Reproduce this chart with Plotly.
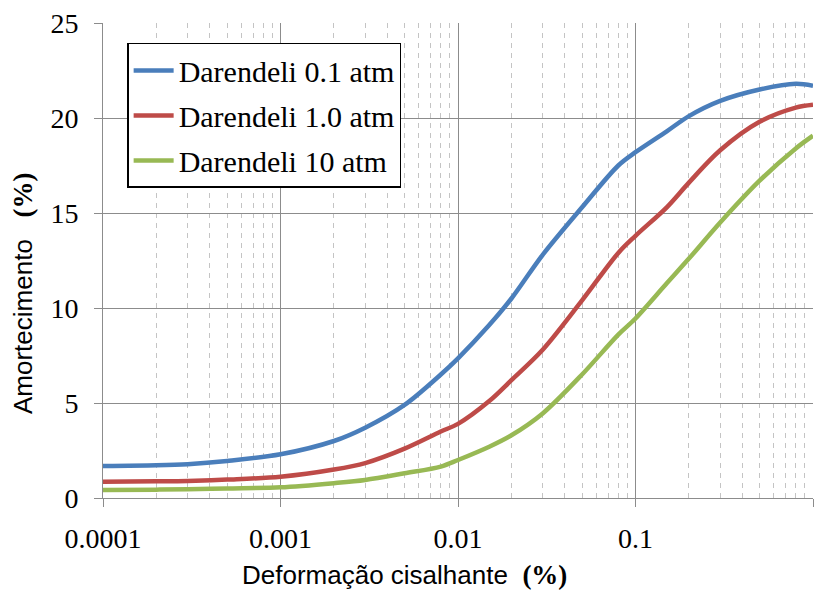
import plotly.graph_objects as go

strain = [0.0001, 0.0002, 0.0003, 0.0005, 0.001, 0.002, 0.003, 0.005, 0.008, 0.01,
          0.015, 0.02, 0.03, 0.05, 0.08, 0.1, 0.15, 0.2, 0.3, 0.5, 0.8, 1.0]
damp_01 = [1.68, 1.72, 1.78, 1.95, 2.3, 3.0, 3.7, 4.9, 6.5, 7.35,
           9.1, 10.5, 12.8, 15.3, 17.5, 18.2, 19.3, 20.1, 20.9, 21.5, 21.8, 21.7]
damp_10 = [0.86, 0.88, 0.9, 0.97, 1.12, 1.5, 1.84, 2.6, 3.5, 3.9,
           5.1, 6.2, 7.8, 10.4, 12.9, 13.8, 15.3, 16.6, 18.3, 19.8, 20.55, 20.7]
damp_100 = [0.42, 0.44, 0.46, 0.5, 0.56, 0.78, 0.95, 1.3, 1.65, 2.0,
            2.7, 3.3, 4.45, 6.5, 8.6, 9.45, 11.3, 12.6, 14.5, 16.7, 18.4, 19.07]

names = ["Darendeli 0.1 atm", "Darendeli 1.0 atm", "Darendeli 10 atm"]
colors = ["#4a7ebb", "#be4b48", "#98b954"]
series = [damp_01, damp_10, damp_100]

x_ticks = [0.0001, 0.001, 0.01, 0.1, 1]
x_ticktext = ["0.0001", "0.001", "0.01", "0.1", "1"]
y_ticks = [0, 5, 10, 15, 20, 25]

fig = go.Figure()
for i, (n, c, s) in enumerate(zip(names, colors, series)):
    fig.add_trace(go.Scatter(x=strain, y=s, mode="lines", name=n,
                             line=dict(color=c, width=4.5, shape="spline", smoothing=0.9),
                             legendgroup=f"g{i}"))

serif = "Liberation Serif, Times New Roman, serif"
sans = "Liberation Sans, Arial, sans-serif"

fig.update_layout(
    width=815, height=597,
    margin=dict(l=103, r=2, t=23, b=99),
    paper_bgcolor="white", plot_bgcolor="white",
    showlegend=True,
    legend=dict(x=0.034, y=0.958, xanchor="left", yanchor="top",
                bgcolor="white", bordercolor="black", borderwidth=1.5,
                font=dict(family=serif, size=30, color="black"),
                tracegroupgap=3, itemwidth=40),
    xaxis=dict(type="log", range=[-4, 0], tickvals=x_ticks, ticktext=x_ticktext,
               showgrid=True, gridcolor="#8c8c8c", gridwidth=1,
               ticks="outside", ticklen=8, tickcolor="#8c8c8c",
               tickfont=dict(family=serif, size=28, color="black"),
               ticklabelstandoff=7,
               showline=True, linecolor="#8c8c8c", linewidth=1,
               minor=dict(showgrid=True, gridcolor="#c4c4c4", griddash="5px,5px",
                          gridwidth=1, ticks="", dtick="D1"),
               zeroline=False),
    yaxis=dict(range=[0, 25], tickvals=y_ticks,
               showgrid=True, gridcolor="#8c8c8c", gridwidth=1,
               ticks="outside", ticklen=8, tickcolor="#8c8c8c",
               tickfont=dict(family=serif, size=28, color="black"),
               ticklabelstandoff=10,
               showline=True, linecolor="#8c8c8c", linewidth=1,
               zeroline=False),
    annotations=[
        dict(text="Deformação cisalhante  <b><span style='font-family:Liberation Serif;font-size:27px'>(%)</span></b>",
             xref="paper", yref="paper", x=(404 - 103) / 710, y=(498 - 575) / 475,
             xanchor="center", yanchor="middle", showarrow=False,
             font=dict(family=sans, size=26, color="black")),
        dict(text="Amortecimento   <b><span style='font-family:Liberation Serif;font-size:27px'>(%)</span></b>",
             xref="paper", yref="paper", x=(23 - 103) / 710, y=(498 - 293) / 475,
             xanchor="center", yanchor="middle", showarrow=False, textangle=-90,
             font=dict(family=sans, size=26, color="black")),
    ],
)

fig.write_html("out.html")
